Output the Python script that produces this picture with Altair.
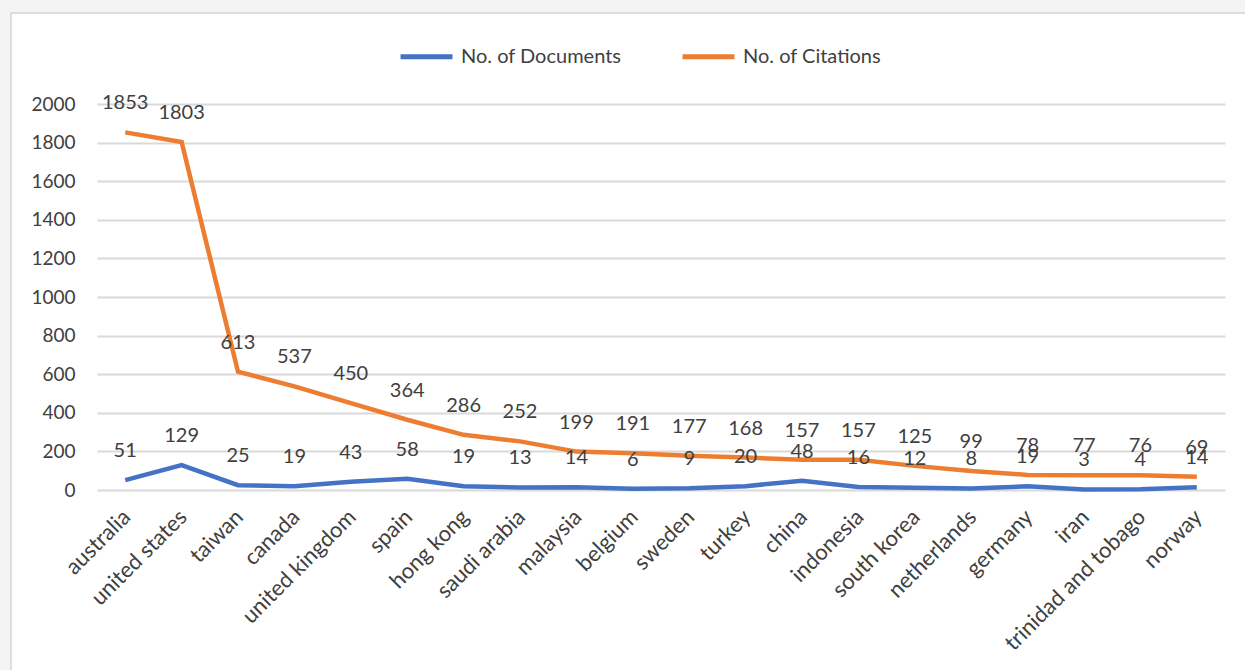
import altair as alt
import pandas as pd

countries = ["australia", "united states", "taiwan", "canada", "united kingdom", "spain",
             "hong kong", "saudi arabia", "malaysia", "belgium", "sweden", "turkey", "china",
             "indonesia", "south korea", "netherlands", "germany", "iran",
             "trinidad and tobago", "norway"]
documents = [51, 129, 25, 19, 43, 58, 19, 13, 14, 6, 9, 20, 48, 16, 12, 8, 19, 3, 4, 14]
citations = [1853, 1803, 613, 537, 450, 364, 286, 252, 199, 191, 177, 168, 157, 157, 125,
             99, 78, 77, 76, 69]
series_names = ["No. of Documents", "No. of Citations"]
series_colors = ["#4472C4", "#ED7D31"]
y_ticks = [0, 200, 400, 600, 800, 1000, 1200, 1400, 1600, 1800, 2000]

rows = []
for i, c in enumerate(countries):
    rows.append({"country": c, "series": series_names[0], "value": documents[i], "order": 0})
    rows.append({"country": c, "series": series_names[1], "value": citations[i], "order": 1})
df = pd.DataFrame(rows)

FONT = "Lato"
TXT = "#404040"
PL, PT, W, H = 97, 104, 1128, 386

x_enc = alt.X("country:N", sort=countries, scale=alt.Scale(type="point", padding=0.5),
              axis=alt.Axis(title=None, labelAngle=-45, labelFontSize=22, labelColor=TXT,
                            labelFont=FONT, domain=False, ticks=False, grid=False,
                            labelPadding=16, labelOffset=-6, labelOverlap=False,
                            labelLimit=0))
y_enc = alt.Y("value:Q", scale=alt.Scale(domain=[0, 2000], nice=False),
              axis=alt.Axis(title=None, values=y_ticks, format="d", labelFontSize=19,
                            labelColor=TXT, labelFont=FONT, domain=False, ticks=False,
                            gridColor="#d9d9d9", gridWidth=2, labelPadding=22,
                            labelOverlap=False))

one = pd.DataFrame({"a": [0]})
top_strip = alt.Chart(one).mark_rect(fill="#f4f4f4").encode(
    x=alt.value(-PL), y=alt.value(-PT), x2=alt.value(1245 - PL + 5), y2=alt.value(13 - PT))
left_strip = alt.Chart(one).mark_rect(fill="#f4f4f4").encode(
    x=alt.value(-PL), y=alt.value(-PT), x2=alt.value(11 - PL), y2=alt.value(670 - PT + 5))
border = alt.Chart(one).mark_rect(fill=None, stroke="#d4d4d4", strokeWidth=1.5).encode(
    x=alt.value(11 - PL), y=alt.value(13 - PT),
    x2=alt.value(1245 - PL + 10), y2=alt.value(670 - PT + 10))

lines = alt.Chart(df).mark_line(strokeWidth=4.5).encode(
    x=x_enc, y=y_enc,
    color=alt.Color("series:N", scale=alt.Scale(domain=series_names, range=series_colors),
                    legend=alt.Legend(title=None, orient="none", direction="horizontal",
                                      legendX=398 - PL, legendY=-76, symbolType="stroke",
                                      symbolSize=2700, symbolStrokeWidth=5,
                                      labelFontSize=20, labelFont=FONT, labelColor=TXT,
                                      labelLimit=0, columnPadding=50, labelOffset=6)),
    order="order:Q")

labels = alt.Chart(df).mark_text(dy=-29, fontSize=20, font=FONT, color=TXT).encode(
    x=x_enc, y=y_enc, text="value:Q")

chart = alt.layer(top_strip, left_strip, border, lines, labels).properties(
    width=W, height=H,
    autosize=alt.AutoSizeParams(type="none"),
    padding={"left": PL, "top": PT, "right": 1245 - PL - W, "bottom": 670 - PT - H},
    background="white",
).configure_view(stroke=None)

chart.save("out.html", embed_options={"renderer": "svg", "actions": False})
